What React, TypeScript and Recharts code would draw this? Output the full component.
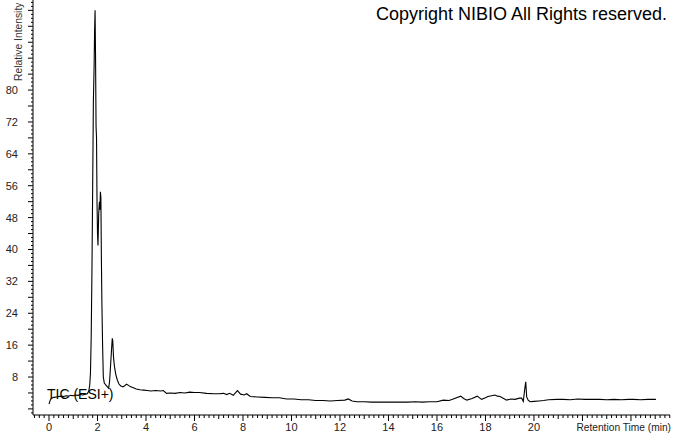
import { LineChart, Line, XAxis, YAxis } from 'recharts';

// retention time (min) and relative intensity
const times = [
  0.0, 0.05, 0.1, 0.2, 0.3, 0.4, 0.5, 0.6, 0.7, 0.8, 0.9, 1.0, 1.1, 1.2, 1.3, 1.4, 1.5, 1.58,
  1.64, 1.68, 1.71, 1.74, 1.77, 1.8, 1.83, 1.86, 1.88, 1.9, 1.92, 1.94, 1.96, 1.98, 2.0, 2.02,
  2.05, 2.08, 2.1, 2.12, 2.14, 2.16, 2.18, 2.21, 2.24, 2.28, 2.34, 2.4, 2.46, 2.5, 2.54, 2.58,
  2.61, 2.63, 2.66, 2.7, 2.76, 2.82, 2.88, 2.95, 3.05, 3.12, 3.2, 3.28, 3.35, 3.48, 3.6, 3.75,
  3.9, 4.05, 4.2, 4.4, 4.6, 4.71, 4.85, 5.0, 5.2, 5.4, 5.6, 5.8, 6.0, 6.2, 6.5, 6.8, 7.0, 7.2,
  7.33, 7.45, 7.6, 7.77, 7.9, 8.05, 8.15, 8.3, 8.6, 8.9, 9.2, 9.5, 9.8, 10.1, 10.4, 10.7, 11.0,
  11.3, 11.6, 11.9, 12.2, 12.34, 12.5, 12.7, 13.0, 13.3, 13.6, 13.9, 14.2, 14.5, 14.8, 15.1,
  15.4, 15.7, 16.0, 16.26, 16.5, 16.67, 16.98, 17.1, 17.23, 17.45, 17.66, 17.84, 18.0, 18.1,
  18.25, 18.39, 18.5, 18.6, 18.75, 18.87, 19.05, 19.22, 19.4, 19.49, 19.56, 19.62, 19.66, 19.7,
  19.76, 19.84, 20.0, 20.2, 20.39, 20.6, 20.94, 21.2, 21.5, 21.8, 22.1, 22.4, 22.72, 23.0, 23.3,
  23.6, 23.9, 24.1, 24.4, 24.7, 25.03,
];
const intensity = [
  1.2, 2.2, 2.7, 2.9, 3.0, 3.1, 3.2, 3.1, 3.3, 3.2, 3.4, 3.3, 3.5, 3.4, 3.6, 3.5, 3.7, 3.8,
  4.5, 6.0, 9.0, 18, 34, 55, 77, 86, 95, 100, 88, 71, 68, 52, 44, 41,
  49, 52, 50, 54.5, 53, 38, 27, 16, 8, 6.5, 6, 5.6, 5.2, 7, 11, 15,
  17.7, 17, 13, 10.6, 8.5, 7.2, 6.3, 5.8, 5.5, 5.8, 6.2, 5.9, 5.6, 5.3, 5.0, 4.8,
  4.7, 4.6, 4.5, 4.6, 4.5, 4.6, 3.9, 4.0, 3.9, 4.1, 4.0, 4.2, 4.1, 4.1, 3.9, 3.8, 3.8, 3.9,
  3.6, 3.9, 3.4, 4.6, 3.7, 3.5, 3.8, 3.1, 3.0, 2.9, 2.8, 2.8, 2.5, 2.5, 2.3, 2.3, 2.1,
  2.1, 2.0, 2.1, 2.2, 2.5, 2.0, 1.8, 1.8, 1.7, 1.7, 1.7, 1.7, 1.7, 1.7, 1.8,
  1.7, 1.8, 1.8, 2.2, 2.1, 2.5, 3.2, 2.6, 2.2, 2.6, 3.2, 2.4, 2.8, 3.1,
  3.3, 3.5, 3.2, 3.1, 2.6, 2.2, 2.5, 2.4, 2.7, 2.7, 1.9, 5.0, 6.8, 3.0,
  2.2, 1.8, 1.9, 2.0, 2.1, 2.3, 2.4, 2.4, 2.3, 2.5, 2.4, 2.4, 2.4, 2.3, 2.4,
  2.3, 2.4, 2.4, 2.3, 2.4, 2.4,
];

const xLabels = [0, 2, 4, 6, 8, 10, 12, 14, 16, 18, 20];
const yLabels = [8, 16, 24, 32, 40, 48, 56, 64, 72, 80];

const chartData = times.map((t, i) => ({ t, v: intensity[i] }));

// minor tick marks: every 0.2 min on x, every 1 unit on y
const xTicks = Array.from({ length: 132 }, (_, i) => Math.round((-0.6 + i * 0.2) * 10) / 10);
const yTicks = Array.from({ length: 104 }, (_, i) => i - 1);

const FONT = '"Liberation Sans", Arial, sans-serif';

const XTick = (props: any) => {
  const { x, y, payload } = props;
  const v = payload.value;
  const isInt = Math.abs(v - Math.round(v)) < 1e-6;
  const len = isInt && Math.round(v) % 2 === 0 ? 6 : isInt ? 4 : 3;
  return (
    <g>
      <line x1={x} x2={x} y1={y} y2={y + len} stroke="#000" />
      {xLabels.includes(v) && (
        <text x={x} y={y + 16} textAnchor="middle" fontSize={11} fontFamily={FONT} fill="#222">
          {v}
        </text>
      )}
    </g>
  );
};

const YTick = (props: any) => {
  const { x, y, payload } = props;
  const v = payload.value;
  const len = v % 4 === 0 ? 5 : 2;
  return (
    <g>
      <line x1={x - len} x2={x} y1={y} y2={y} stroke="#000" />
      {yLabels.includes(v) && (
        <text x={x - 15} y={y + 4} textAnchor="end" fontSize={11} fontFamily={FONT} fill="#222">
          {v}
        </text>
      )}
    </g>
  );
};

export default function App() {
  return (
    <div style={{ position: 'absolute', left: 0, top: 0, width: 673, height: 433, background: '#fff' }}>
      <LineChart width={673} height={433} data={chartData} margin={{ top: 0, right: 3, left: 0, bottom: 0 }}>
        <XAxis
          dataKey="t"
          type="number"
          domain={[-0.66, 25.61]}
          ticks={xTicks}
          interval={0}
          height={18}
          tickSize={0}
          tickMargin={0}
          tick={<XTick />}
          axisLine={{ stroke: '#000' }}
          tickLine={false}
        />
        <YAxis
          type="number"
          domain={[-1.53, 102.6]}
          ticks={yTicks}
          interval={0}
          width={33}
          tickSize={0}
          tickMargin={0}
          tick={<YTick />}
          axisLine={{ stroke: '#000' }}
          tickLine={false}
        />
        <Line
          type="linear"
          dataKey="v"
          stroke="#000"
          strokeWidth={1.1}
          dot={false}
          isAnimationActive={false}
        />
      </LineChart>
      <svg
        width={673}
        height={433}
        style={{ position: 'absolute', left: 0, top: 0, pointerEvents: 'none' }}
      >
        <text x={376} y={20} fontSize={18} fontFamily={FONT} fill="#000">
          Copyright NIBIO All Rights reserved.
        </text>
        <text x={47} y={399} fontSize={14} fontFamily={FONT} fill="#000">
          TIC (ESI+)
        </text>
        <text x={671} y={431} textAnchor="end" fontSize={10.2} fontFamily={FONT} fill="#222">
          Retention Time (min)
        </text>
        <text
          x={22}
          y={81}
          fontSize={10.3}
          fontFamily={FONT}
          fill="#333"
          transform="rotate(-90, 22, 81)"
        >
          Relative Intensity
        </text>
      </svg>
    </div>
  );
}
